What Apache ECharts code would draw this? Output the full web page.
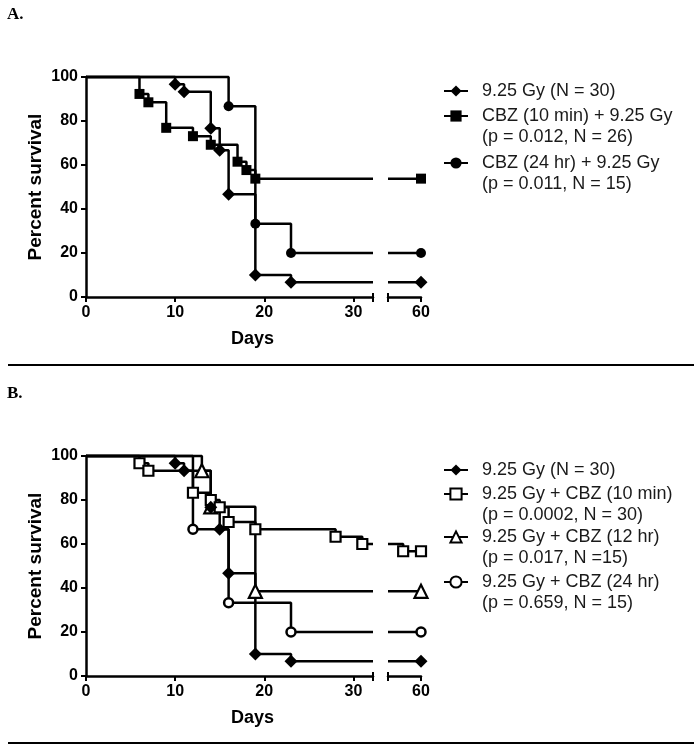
<!DOCTYPE html>
<html>
<head>
<meta charset="utf-8">
<script src="https://cdn.jsdelivr.net/npm/echarts@6/dist/echarts.min.js"></script>
<style>
html,body{margin:0;padding:0;background:#fff;}
#c{width:700px;height:750px;}
</style>
</head>
<body>
<div id="c"></div>
<script>
// ---- data ----
const xTicksLeft = [0, 10, 20, 30];
const xTicksRight = [60];
const yTicks = [0, 20, 40, 60, 80, 100];

// Panel A
const A_gy_t   = [0, 10, 11, 14, 15, 16, 19, 23, 60];
const A_gy_s   = [100, 96.7, 93.3, 76.7, 66.7, 46.7, 10, 6.7, 6.7];
const A_c10_t  = [0, 6, 7, 9, 12, 14, 17, 18, 19, 60];
const A_c10_s  = [100, 92.3, 88.5, 76.9, 73.1, 69.2, 61.5, 57.7, 53.8, 53.8];
const A_c24_t  = [0, 16, 19, 23, 60];
const A_c24_s  = [100, 86.7, 33.3, 20, 20];

// Panel B
const B_gy_t   = [0, 10, 11, 14, 15, 16, 19, 23, 60];
const B_gy_s   = [100, 96.7, 93.3, 76.7, 66.7, 46.7, 10, 6.7, 6.7];
const B_c10_t  = [0, 6, 7, 12, 14, 15, 16, 19, 28, 31, 58, 60];
const B_c10_s  = [100, 96.7, 93.3, 83.3, 80, 76.7, 70, 66.7, 63.3, 60, 56.7, 56.7];
const B_c12_t  = [0, 13, 14, 19, 60];
const B_c12_s  = [100, 93.3, 76.9, 38.5, 38.5];
const B_c24_t  = [0, 12, 16, 23, 60];
const B_c24_s  = [100, 66.7, 33.3, 20, 20];

const namesA = ['9.25 Gy (N = 30)', 'CBZ (10 min) + 9.25 Gy\n(p = 0.012, N = 26)', 'CBZ (24 hr) + 9.25 Gy\n(p = 0.011, N = 15)'];
const namesB = ['9.25 Gy (N = 30)', '9.25 Gy + CBZ (10 min)\n(p = 0.0002, N = 30)', '9.25 Gy + CBZ (12 hr)\n(p = 0.017, N =15)', '9.25 Gy + CBZ (24 hr)\n(p = 0.659, N = 15)'];

// ---- axis break ----
const BREAK_START = 32.2;
const BREAK_END = 56.3;
const X_MAX = 60;

const FONT = '"Liberation Sans", Arial, sans-serif';
const LW = 2.5;

function splitKM(t, s) {
  const left = [], right = [];
  let last = s[0];
  for (let i = 0; i < t.length; i++) {
    if (t[i] <= BREAK_START) {
      left.push(i === 0 ? {value: [t[i], s[i]], symbol: 'none'} : [t[i], s[i]]);
      last = s[i];
    }
  }
  left.push({value: [BREAK_START, last], symbol: 'none'});
  let v = last;
  for (let i = 0; i < t.length; i++) if (t[i] <= BREAK_END) v = s[i];
  right.push({value: [BREAK_END, v], symbol: 'none'});
  for (let i = 0; i < t.length; i++) if (t[i] > BREAK_END) right.push([t[i], s[i]]);
  return {left, right};
}

const styles = {
  diamond:  {symbol: 'diamond', size: 13, fill: '#000', bw: 0},
  square:   {symbol: 'rect', size: 10, fill: '#000', bw: 0},
  circle:   {symbol: 'circle', size: 10, fill: '#000', bw: 0},
  osquare:  {symbol: 'rect', size: 10, fill: '#fff', bw: 2.2},
  otri:     {symbol: 'triangle', size: 13, fill: '#fff', bw: 2.2},
  ocircle:  {symbol: 'circle', size: 9, fill: '#fff', bw: 2.5}
};

const series = [];
function addCurve(name, t, s, st, xL, xR, yL, yR) {
  const p = splitKM(t, s);
  const base = {
    type: 'line', name: name, step: 'end', clip: false, animation: false,
    symbol: st.symbol, symbolSize: st.size,
    lineStyle: {color: '#000', width: LW},
    itemStyle: {color: st.fill, borderColor: '#000', borderWidth: st.bw},
    emphasis: {disabled: true}, silent: true
  };
  series.push(Object.assign({}, base, {xAxisIndex: xL, yAxisIndex: yL, data: p.left}));
  series.push(Object.assign({}, base, {xAxisIndex: xR, yAxisIndex: yR, data: p.right}));
}

addCurve(namesA[2], A_c24_t, A_c24_s, styles.circle, 0, 2, 0, 1);
addCurve(namesA[1], A_c10_t, A_c10_s, styles.square, 0, 2, 0, 1);
addCurve(namesA[0], A_gy_t, A_gy_s, styles.diamond, 0, 2, 0, 1);

addCurve(namesB[3], B_c24_t, B_c24_s, styles.ocircle, 4, 6, 2, 3);
addCurve(namesB[2], B_c12_t, B_c12_s, styles.otri, 4, 6, 2, 3);
addCurve(namesB[1], B_c10_t, B_c10_s, styles.osquare, 4, 6, 2, 3);
addCurve(namesB[0], B_gy_t, B_gy_s, styles.diamond, 4, 6, 2, 3);

const axisLine = {show: true, lineStyle: {color: '#000', width: LW}};
const labelStyle = {color: '#000', fontFamily: FONT, fontWeight: 'bold', fontSize: 16};

function xAxesFor(gL, gR) {
  return [
    { type: 'value', gridIndex: gL, position: 'bottom', offset: 0, min: 0, max: BREAK_START,
      axisLine: axisLine, splitLine: {show: false},
      axisTick: {show: true, length: 5, lineStyle: {color: '#000', width: 2}, customValues: xTicksLeft.concat([BREAK_START])},
      axisLabel: Object.assign({margin: 8, customValues: xTicksLeft}, labelStyle),
      name: 'Days', nameLocation: 'middle', nameGap: 33,
      nameTextStyle: {color: '#000', fontFamily: FONT, fontWeight: 'bold', fontSize: 18, padding: [0, 0, 0, 46]} },
    { type: 'value', gridIndex: gL, position: 'bottom', offset: 0, min: 0, max: BREAK_START,
      axisLine: {show: false}, splitLine: {show: false}, axisLabel: {show: false},
      axisTick: {show: true, inside: true, length: 4, lineStyle: {color: '#000', width: 2}, customValues: [BREAK_START]} },
    { type: 'value', gridIndex: gR, position: 'bottom', offset: 0, min: BREAK_END, max: X_MAX,
      axisLine: axisLine, splitLine: {show: false},
      axisTick: {show: true, length: 5, lineStyle: {color: '#000', width: 2}, customValues: [BREAK_END].concat(xTicksRight)},
      axisLabel: Object.assign({margin: 8, customValues: xTicksRight}, labelStyle) },
    { type: 'value', gridIndex: gR, position: 'bottom', offset: 0, min: BREAK_END, max: X_MAX,
      axisLine: {show: false}, splitLine: {show: false}, axisLabel: {show: false},
      axisTick: {show: true, inside: true, length: 4, lineStyle: {color: '#000', width: 2}, customValues: [BREAK_END]} }
  ];
}
function yAxesFor(gL, gR) {
  return [
    { type: 'value', gridIndex: gL, min: 0, max: 100, interval: 20,
      axisLine: axisLine, splitLine: {show: false},
      axisTick: {show: true, length: 5, lineStyle: {color: '#000', width: 2}, customValues: yTicks},
      axisLabel: Object.assign({margin: 8, customValues: yTicks}, labelStyle),
      name: 'Percent survival', nameLocation: 'middle', nameGap: 41,
      nameTextStyle: {color: '#000', fontFamily: FONT, fontWeight: 'bold', fontSize: 19} },
    { type: 'value', gridIndex: gR, min: 0, max: 100, show: false }
  ];
}

function legendEntry(name, centerY, multi) {
  const lines = multi ? 3 : 1;
  return {
    data: [name], left: 443, top: centerY - lines * 21 / 2, orient: 'vertical', padding: 0,
    itemWidth: 24, itemHeight: 14, selectedMode: false,
    formatter: n => (multi ? '\n' + n : n),
    textStyle: {color: '#1a1a1a', fontFamily: FONT, fontSize: 18, lineHeight: 21, padding: [0, 0, 0, 9]}
  };
}

const option = {
  backgroundColor: '#fff',
  animation: false,
  grid: [
    {left: 86, top: 77, width: 287, height: 220},
    {left: 388, top: 77, width: 33, height: 220},
    {left: 86, top: 456, width: 287, height: 220},
    {left: 388, top: 456, width: 33, height: 220}
  ],
  xAxis: xAxesFor(0, 1).concat(xAxesFor(2, 3)),
  yAxis: yAxesFor(0, 1).concat(yAxesFor(2, 3)),
  legend: [
    legendEntry(namesA[0], 91, false),
    legendEntry(namesA[1], 116, true),
    legendEntry(namesA[2], 163, true),
    legendEntry(namesB[0], 470, false),
    legendEntry(namesB[1], 494, true),
    legendEntry(namesB[2], 537, true),
    legendEntry(namesB[3], 582, true)
  ],
  graphic: [
    {type: 'text', left: 7, top: 6, style: {text: 'A.', fontFamily: '"Liberation Serif", "Times New Roman", serif', fontWeight: 'bold', fontSize: 17, fill: '#000'}},
    {type: 'text', left: 7, top: 385, style: {text: 'B.', fontFamily: '"Liberation Serif", "Times New Roman", serif', fontWeight: 'bold', fontSize: 17, fill: '#000'}},
    {type: 'line', shape: {x1: 8, y1: 365, x2: 694, y2: 365}, style: {stroke: '#000', lineWidth: 2}},
    {type: 'line', shape: {x1: 8, y1: 743, x2: 694, y2: 743}, style: {stroke: '#000', lineWidth: 2}}
  ],
  series: series
};

const chart = echarts.init(document.getElementById('c'), null, {renderer: 'canvas'});
chart.setOption(option);
</script>
</body>
</html>
